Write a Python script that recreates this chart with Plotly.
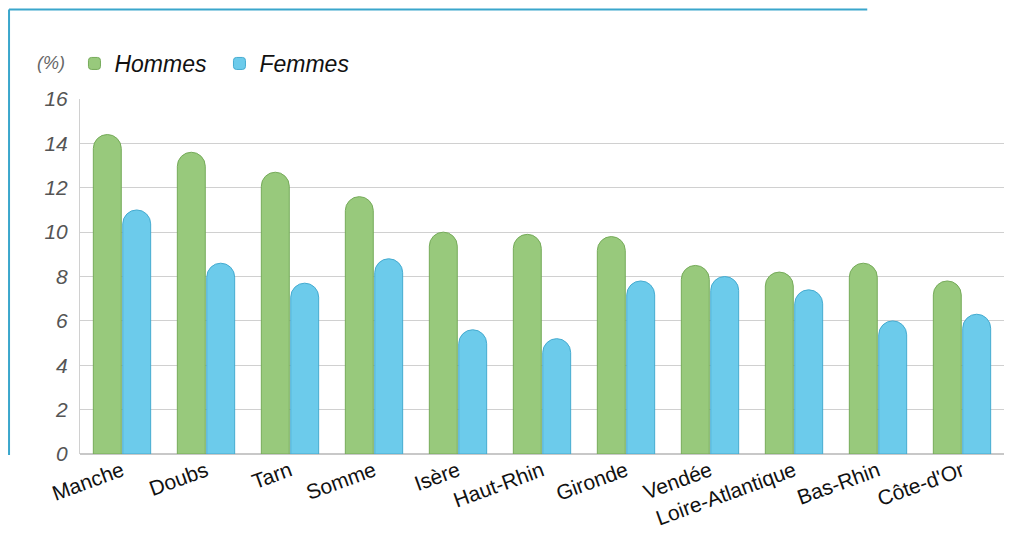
import plotly.graph_objects as go

categories = ["Manche", "Doubs", "Tarn", "Somme", "Isère", "Haut-Rhin", "Gironde",
              "Vendée", "Loire-Atlantique", "Bas-Rhin", "Côte-d'Or"]
hommes = [14.4, 13.6, 12.7, 11.6, 10.0, 9.9, 9.8, 8.5, 8.2, 8.6, 7.8]
femmes = [11.0, 8.6, 7.7, 8.8, 5.6, 5.2, 7.8, 8.0, 7.4, 6.0, 6.3]
y_ticks = [0, 2, 4, 6, 8, 10, 12, 14, 16]

fig = go.Figure()
fig.add_trace(go.Bar(
    x=categories, y=hommes, name="Hommes",
    marker=dict(color="#98c97c", line=dict(color="#76ab5a", width=1), cornerradius="50%"),
))
fig.add_trace(go.Bar(
    x=categories, y=femmes, name="Femmes",
    marker=dict(color="#6ccbeb", line=dict(color="#45abd0", width=1), cornerradius="50%"),
))

fig.update_layout(
    width=1011, height=539,
    margin=dict(l=72, r=15, t=91, b=93, autoexpand=False),
    paper_bgcolor="white", plot_bgcolor="white",
    barmode="group", bargap=0.3, bargroupgap=0.05,
    font=dict(family="Liberation Sans, Arial, sans-serif", color="#111"),
    showlegend=True,
    legend=dict(
        orientation="h", x=-0.006, y=1.10, xref="paper", yref="paper",
        xanchor="left", yanchor="middle",
        font=dict(size=23, style="italic", color="#111"),
        entrywidth=100, tracegroupgap=0, bgcolor="rgba(0,0,0,0)",
    ),
    xaxis=dict(
        tickangle=-20, tickfont=dict(size=21, color="#111"),
        showline=False, showgrid=False, ticks="", automargin=False,
    ),
    yaxis=dict(
        range=[0, 16], tickvals=y_ticks,
        tickfont=dict(size=21, color="#555", style="italic"),
        showgrid=True, gridcolor="#d0d0d0", gridwidth=1,
        showline=True, linecolor="#d0d0d0", linewidth=1,
        zeroline=True, zerolinecolor="#c8c8c8", zerolinewidth=2,
        ticks="", ticklabelstandoff=7, automargin=False,
    ),
    annotations=[dict(
        text="(%)", x=-0.014, y=1.102, xref="paper", yref="paper",
        xanchor="right", yanchor="middle", showarrow=False,
        font=dict(size=18, color="#666", style="italic"),
    )],
    shapes=[
        dict(type="line", xref="paper", yref="paper", x0=-0.0768, x1=-0.0768, y0=-0.003, y1=1.252,
             line=dict(color="#3aa6cc", width=2)),
        dict(type="line", xref="paper", yref="paper", x0=-0.0768, x1=0.852, y0=1.252, y1=1.252,
             line=dict(color="#3aa6cc", width=2)),
    ],
)

fig.write_html("out.html")
